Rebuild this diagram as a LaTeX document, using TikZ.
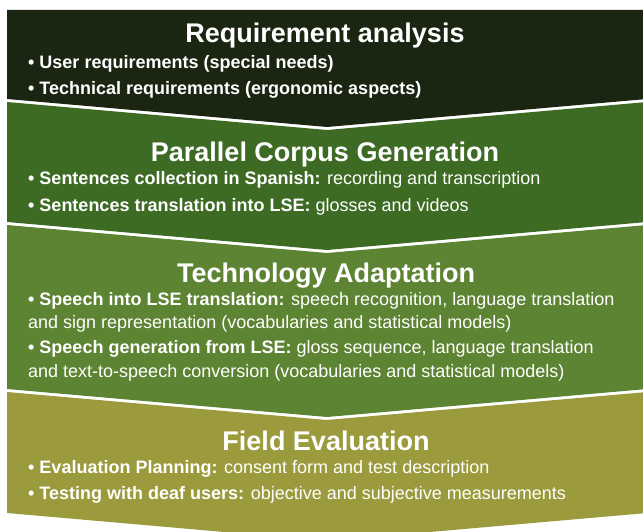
\documentclass[tikz,border=0pt]{standalone}
\usepackage{fontspec}
\setmainfont{Liberation Sans}
\usepackage{tikz}
\definecolor{reqgreen}{HTML}{1B2612}
\definecolor{corpusgreen}{HTML}{3D6B24}
\definecolor{techgreen}{HTML}{5C8432}
\definecolor{fieldolive}{HTML}{9B9A3C}

\begin{document}
\begin{tikzpicture}[x=1pt,y=-1pt,
    title/.style={text=white,inner sep=0pt,anchor=base,font=\fontsize{27}{32}\selectfont\bfseries},
    item/.style={text=white,inner sep=0pt,anchor=base west,font=\fontsize{18}{22}\selectfont}]
\useasboundingbox (0,0) rectangle (643,532);
% chevron bands
\fill[reqgreen] (7,10) -- (647,10) -- (647,99) -- (327,127) -- (7,99) -- cycle;
\foreach \ya/\yb/\col in {102/222/corpusgreen,225/389/techgreen,392/513/fieldolive}
  \fill[\col] (7,\ya) -- (327,\ya+28) -- (647,\ya) -- (647,\yb) -- (327,\yb+28) -- (7,\yb) -- cycle;
% requirement analysis
\node[title] (reqtitle) at (325,43) {Requirement analysis};
\node[item] (requser) at (28,68.5) {\bfseries • User requirements (special needs)};
\node[item] (reqtech) at (28,94.5) {\bfseries • Technical requirements (ergonomic aspects)};
% parallel corpus
\node[title] (corpustitle) at (325,162) {Parallel Corpus Generation};
\node[item] (corpuscoll) at (28,184.5) {\textbf{• Sentences collection in Spanish:} recording and transcription};
\node[item] (corpustrans) at (28,211.5) {\textbf{• Sentences translation into LSE:} glosses and videos};
% technology adaptation
\node[title] (techtitle) at (326,282) {Technology Adaptation};
\node[item] (techspeech) at (28,305) {\textbf{• Speech into LSE translation:} speech recognition, language translation};
\node[item] (techspeechb) at (28,328) {and sign representation (vocabularies and statistical models)};
\node[item] (techgen) at (28,353) {\textbf{• Speech generation from LSE:} gloss sequence, language translation};
\node[item] (techgenb) at (28,377) {and text-to-speech conversion (vocabularies and statistical models)};
% field evaluation
\node[title] (fieldtitle) at (326,450) {Field Evaluation};
\node[item] (fieldplan) at (28,473.5) {\textbf{• Evaluation Planning:} consent form and test description};
\node[item] (fieldtest) at (28,499.5) {\textbf{• Testing with deaf users:} objective and subjective measurements};
\end{tikzpicture}
\end{document}
